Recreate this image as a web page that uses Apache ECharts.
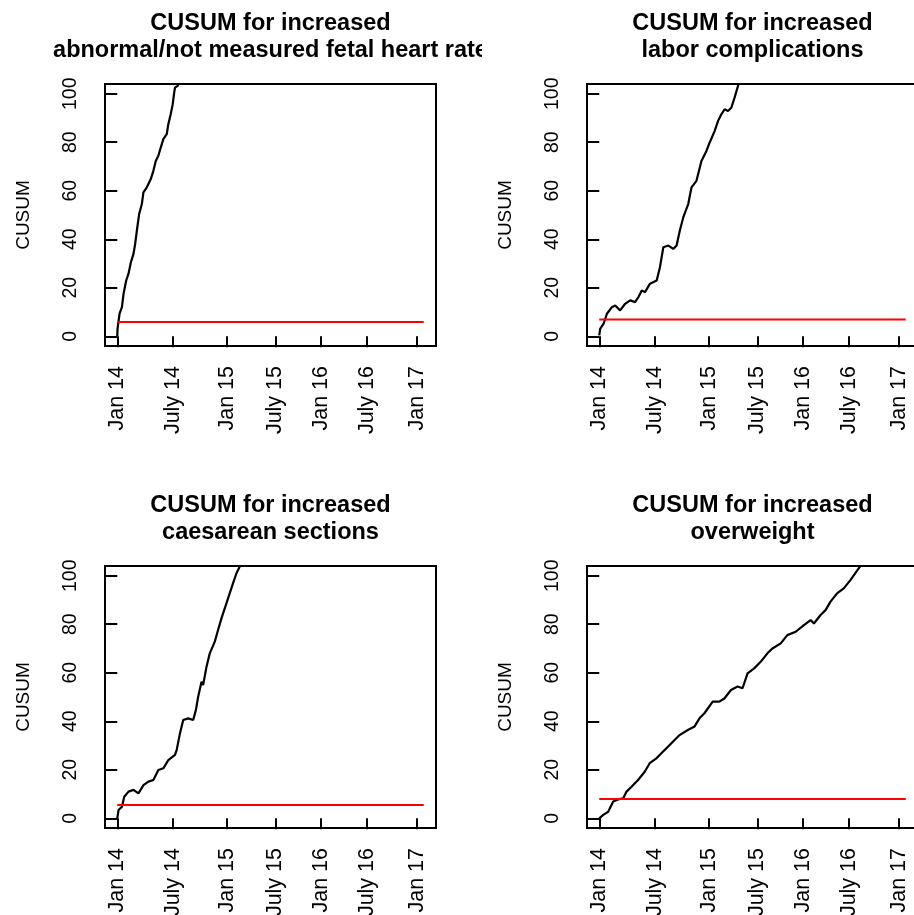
<!DOCTYPE html>
<html>
<head>
<meta charset="utf-8">
<title>CUSUM</title>
<script src="https://cdn.jsdelivr.net/npm/echarts@6/dist/echarts.min.js"></script>
<style>
  html, body {
    margin: 0;
    padding: 0;
    width: 914px;
    height: 915px;
    overflow: hidden;
    background: #fff;
  }
  .panel {
    position: absolute;
    width: 482px;
    height: 482px;
  }
</style>
</head>
<body>
<div id="p0" class="panel" style="left:0;top:0"></div>
<div id="p1" class="panel" style="left:482px;top:0"></div>
<div id="p2" class="panel" style="left:0;top:482px"></div>
<div id="p3" class="panel" style="left:482px;top:482px"></div>
<script>
// x axis is the running birth number; ticks sit at the first birth of each half-year
const tickIdx = [0, 560, 1100, 1590, 2050, 2510, 3010];
const tickLabels = ["Jan 14", "July 14", "Jan 15", "July 15", "Jan 16", "July 16", "Jan 17"];
const nBirths = 3080;
const yTicks = [0, 20, 40, 60, 80, 100];

const titles = [
  "CUSUM for increased\nabnormal/not measured fetal heart rate",
  "CUSUM for increased\nlabor complications",
  "CUSUM for increased\ncaesarean sections",
  "CUSUM for increased\noverweight",
];

// alarm limits (red lines)
const thresholds = [5.9, 6.9, 5.5, 8.0];

// abnormal/not measured fetal heart rate
const fhrX = [0, 3, 23, 47, 63, 90, 113, 137, 163, 180, 197, 220, 247, 263, 297, 337, 363, 387, 413, 437, 463, 497, 513, 537, 557, 570, 580, 607, 630];
const fhrY = [0, 3.2, 9.3, 12, 17.5, 23, 25.8, 30.5, 34, 38.1, 43.6, 50.4, 54.5, 59.3, 61.4, 64.8, 68.2, 72.3, 74.4, 77.8, 81.3, 83.3, 87.4, 91.5, 95.6, 99.8, 102.5, 103.2, 107];

// labor complications
const laborX = [0, 10, 44, 77, 127, 160, 210, 260, 310, 360, 394, 427, 460, 510, 577, 610, 644, 694, 744, 777, 810, 844, 894, 927, 977, 994, 1027, 1077, 1110, 1160, 1194, 1227, 1260, 1294, 1327, 1360, 1394, 1427];
const laborY = [0.4, 3.2, 5.2, 9.3, 12, 12.7, 10.7, 13.4, 14.8, 14.1, 16.2, 18.9, 18.2, 21.7, 23, 28.5, 36.7, 37.4, 36, 37.4, 43.6, 49, 54.5, 61.4, 64.1, 66.9, 72.3, 76.4, 79.9, 84.7, 88.8, 91.5, 93.6, 92.9, 94.2, 98.4, 103.2, 107];

// caesarean sections
const csX = [0, 13, 47, 70, 113, 163, 213, 263, 313, 363, 413, 463, 513, 580, 597, 630, 663, 713, 763, 790, 813, 847, 863, 897, 930, 980, 1013, 1047, 1097, 1130, 1163, 1197, 1230, 1263];
const csY = [0, 3.4, 4.8, 8.9, 11, 11.7, 10.3, 13.7, 15.1, 15.8, 19.9, 20.6, 24, 26.1, 28.1, 35, 40.5, 41.2, 40.5, 44.6, 50.1, 56.3, 54.9, 62.5, 68, 72.8, 77.6, 82.4, 88.6, 92.7, 96.8, 100.9, 103.7, 108];

// overweight
const owX = [0, 40, 90, 140, 190, 240, 274, 324, 390, 457, 507, 574, 624, 690, 757, 807, 890, 957, 1007, 1057, 1140, 1207, 1257, 1324, 1390, 1440, 1490, 1557, 1624, 1690, 1740, 1824, 1890, 1974, 2057, 2124, 2157, 2224, 2274, 2324, 2390, 2457, 2524, 2607, 2657];
const owY = [0, 1.4, 2.7, 6.9, 7.8, 8.2, 11, 13, 15.8, 19.2, 22.7, 24.7, 26.8, 29.5, 32.3, 34.3, 36.4, 37.8, 41.2, 43.3, 48.1, 48.1, 49.4, 52.9, 54.3, 53.6, 59.7, 61.8, 64.6, 68, 70, 72.1, 75.5, 76.9, 79.6, 81.7, 80.3, 83.8, 85.8, 89.3, 92.7, 94.8, 98.2, 103, 106];

const seriesX = [fhrX, laborX, csX, owX];
const seriesY = [fhrY, laborY, csY, owY];

const FONT = "'Liberation Sans', Arial, sans-serif";

function makeOption(k) {
  const pts = seriesX[k].map((x, i) => [x, seriesY[k][i]]);
  const pad = nBirths * 0.04;
  return {
    animation: false,
    backgroundColor: "#fff",
    title: {
      text: titles[k],
      left: 270.5,
      top: 9.5,
      padding: 0,
      textAlign: "center",
      textVerticalAlign: "top",
      textStyle: {
        fontFamily: FONT,
        fontWeight: "bold",
        fontSize: 23.5,
        lineHeight: 27.6,
        color: "#000",
      },
    },
    grid: {
      left: 105,
      top: 84,
      width: 331,
      height: 262,
      show: true,
      borderColor: "#000",
      borderWidth: 2,
      outerBoundsMode: "none",
    },
    xAxis: {
      type: "value",
      min: -pad,
      max: nBirths + pad,
      splitLine: { show: false },
      axisLine: { show: false },
      axisTick: {
        customValues: tickIdx,
        length: 11,
        lineStyle: { color: "#000", width: 2 },
      },
      axisLabel: {
        customValues: tickIdx,
        formatter: (v) => tickLabels[tickIdx.indexOf(v)],
        rotate: 90,
        margin: 20,
        color: "#000",
        fontFamily: FONT,
        fontSize: 21.5,
      },
    },
    yAxis: {
      type: "value",
      min: -4,
      max: 104,
      name: "CUSUM",
      nameLocation: "middle",
      nameRotate: 90,
      nameGap: 72,
      nameTextStyle: { color: "#000", fontFamily: FONT, fontSize: 19 },
      splitLine: { show: false },
      axisLine: { show: false },
      axisTick: {
        customValues: yTicks,
        length: 12,
        lineStyle: { color: "#000", width: 2 },
      },
      axisLabel: {
        customValues: yTicks,
        rotate: 90,
        margin: 24,
        color: "#000",
        fontFamily: FONT,
        fontSize: 19.5,
      },
    },
    series: [
      {
        name: "CUSUM",
        type: "line",
        data: pts,
        showSymbol: false,
        clip: true,
        lineStyle: { color: "#000", width: 2.2 },
      },
      {
        name: "limit",
        type: "line",
        data: [[0, thresholds[k]], [nBirths, thresholds[k]]],
        showSymbol: false,
        clip: true,
        lineStyle: { color: "#ff0000", width: 2 },
      },
    ],
  };
}

const charts = [];
for (let k = 0; k < 4; k++) {
  const chart = echarts.init(document.getElementById("p" + k));
  chart.setOption(makeOption(k));
  charts.push(chart);
}
</script>
</body>
</html>
